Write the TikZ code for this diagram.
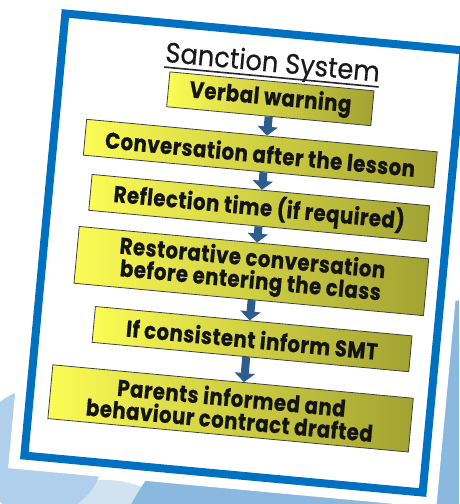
\documentclass[tikz,border=0pt]{standalone}
\usepackage{fontspec}
\newfontfamily\boxfont{Poppins}[FakeStretch=0.86, LetterSpace=2, BoldFeatures={FakeBold=0.6}]
\newfontfamily\titlefont{Poppins}[FakeStretch=0.92, FakeBold=0.5]
\usetikzlibrary{calc,arrows.meta}
\definecolor{frameblue}{HTML}{0070C0}
\definecolor{boxleft}{HTML}{FCFC55}
\definecolor{boxright}{HTML}{A2A232}
\definecolor{arrowblue}{HTML}{2E5C8C}
\definecolor{bgblue}{HTML}{8BB8DF}
\definecolor{bglight}{HTML}{AFCFEC}
\definecolor{bglighter}{HTML}{D2E3F0}
\begin{document}
\begin{tikzpicture}[x=1pt,y=-1pt,
  box/.style={draw=black!75, line width=0.8pt, left color=boxleft, right color=boxright,
    inner sep=0pt, align=center, text=black!92,
    font=\boxfont\bfseries\fontsize{23}{22.5}\selectfont},
  flow/.style={line width=8pt, draw=arrowblue, -{Triangle[width=20pt,length=9pt]}}]
\useasboundingbox (0,0) rectangle (459,504);
\fill[white] (0,0) rectangle (459,504);
\begin{scope}
  \clip (0,0) rectangle (459,504);
  \fill[bglighter] (105,580) circle (100);
  \fill[bglight] (40,452) circle (64);
  \fill[bgblue] (480,700) circle (400);
\end{scope}
\begin{scope}[shift={(244,253)}, rotate=-5.3, every node/.append style={transform shape}]
  \fill[white] (-215,-236) rectangle (215,236);
  \draw[frameblue, line width=8pt] (-200,-222) rectangle (200,222);
  \node[font=\titlefont\fontsize{28}{28}\selectfont, inner sep=0pt, text depth=5pt, anchor=base, text=black!90]
    (title) at (11,-183) {Sanction System};
  \draw[line width=1.6pt, black!85] (title.south west) -- (title.south east);
  \node[box, minimum width=205pt, minimum height=35pt] (b1) at (12,-156) {Verbal warning};
  \node[box, minimum width=352pt, minimum height=36pt] (b2) at (7,-100.6) {Conversation after the lesson};
  \node[box, minimum width=339pt, minimum height=36pt] (b3) at (11,-46.2) {Reflection time (if required)};
  \node[box, minimum width=351pt, minimum height=57pt] (b4) at (9,17.3) {Restorative conversation\\before entering the class};
  \node[box, minimum width=318pt, minimum height=36pt] (b5) at (16,85) {If consistent inform SMT};
  \node[box, minimum width=362pt, minimum height=54pt] (b6) at (1,156) {Parents informed and\\behaviour contract drafted};
  \draw[flow] (b1.south) -- ($(b2.north west)!0.514!(b2.north east)$);
  \draw[flow] ($(b2.south west)!0.514!(b2.south east)$) -- ($(b3.north west)!0.503!(b3.north east)$);
  \draw[flow] ($(b3.south west)!0.503!(b3.south east)$) -- ($(b4.north west)!0.5085!(b4.north east)$);
  \draw[flow] ($(b4.south west)!0.5085!(b4.south east)$) -- ($(b5.north west)!0.487!(b5.north east)$);
  \draw[flow] ($(b5.south west)!0.487!(b5.south east)$) -- ($(b6.north west)!0.530!(b6.north east)$);
\end{scope}
\end{tikzpicture}
\end{document}
